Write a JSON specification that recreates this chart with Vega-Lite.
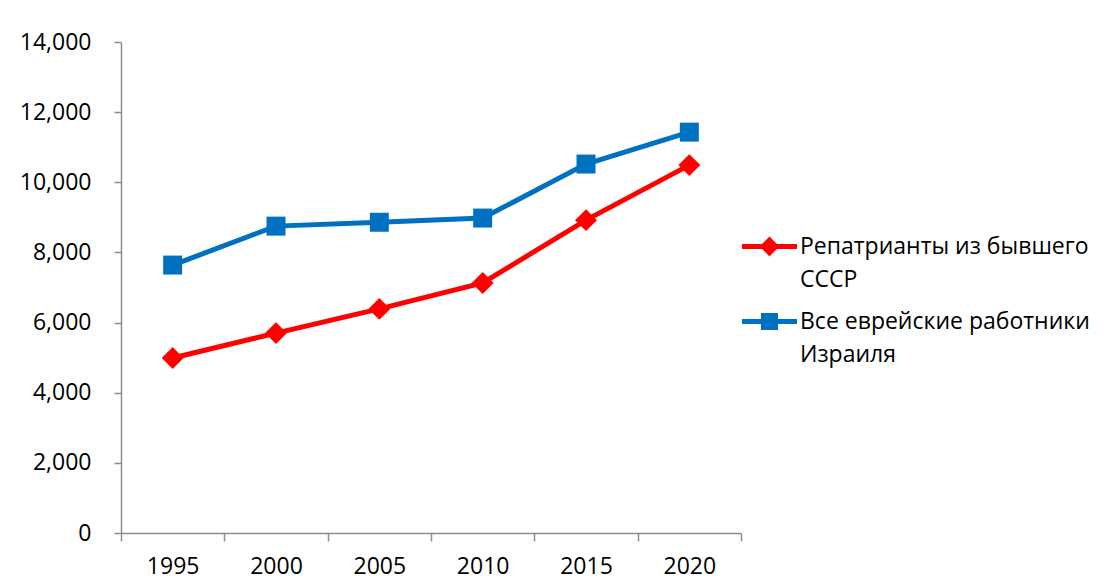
{
  "$schema": "https://vega.github.io/schema/vega-lite/v6.json",
  "width": 620,
  "height": 491,
  "autosize": {"type": "none"},
  "padding": {"left": 121, "top": 42, "right": 364, "bottom": 55},
  "background": "white",
  "config": {
    "view": {"stroke": null},
    "font": "Open Sans",
    "axis": {"domainColor": "#8c8c8c", "tickColor": "#8c8c8c", "domainWidth": 1.5, "tickWidth": 1.5, "labelColor": "#000000", "labelFont": "Open Sans", "labelFontSize": 23, "grid": false, "title": null}
  },
  "data": {
    "values": [
      {"year": "1995", "series": "Репатрианты из бывшего СССР", "value": 4990},
      {"year": "2000", "series": "Репатрианты из бывшего СССР", "value": 5700},
      {"year": "2005", "series": "Репатрианты из бывшего СССР", "value": 6390},
      {"year": "2010", "series": "Репатрианты из бывшего СССР", "value": 7130},
      {"year": "2015", "series": "Репатрианты из бывшего СССР", "value": 8920},
      {"year": "2020", "series": "Репатрианты из бывшего СССР", "value": 10490},
      {"year": "1995", "series": "Все еврейские работники Израиля", "value": 7640},
      {"year": "2000", "series": "Все еврейские работники Израиля", "value": 8750},
      {"year": "2005", "series": "Все еврейские работники Израиля", "value": 8860},
      {"year": "2010", "series": "Все еврейские работники Израиля", "value": 8980},
      {"year": "2015", "series": "Все еврейские работники Израиля", "value": 10520},
      {"year": "2020", "series": "Все еврейские работники Израиля", "value": 11430}
    ]
  },
  "encoding": {
    "x": {
      "field": "year", "type": "ordinal", "bandPosition": 0.5,
      "scale": {"type": "band", "paddingInner": 0, "paddingOuter": 0},
      "axis": {"labelAngle": 0, "tickBand": "extent", "tickSize": 8, "labelPadding": 14, "domainColor": "#8c8c8c"}
    },
    "y": {
      "field": "value", "type": "quantitative",
      "scale": {"domain": [0, 14000], "nice": false},
      "axis": {"values": [0, 2000, 4000, 6000, 8000, 10000, 12000, 14000], "format": ",d", "tickSize": 7, "labelPadding": 23}
    },
    "color": {
      "field": "series", "type": "nominal",
      "scale": {"domain": ["Репатрианты из бывшего СССР", "Все еврейские работники Израиля"], "range": ["#FF0000", "#0070C0"]},
      "legend": {
        "title": null,
        "orient": "none",
        "legendX": 621,
        "legendY": 177,
        "direction": "vertical",
        "symbolSize": 3025,
        "symbolStrokeWidth": 0,
        "symbolOpacity": 1,
        "labelFont": "Open Sans",
        "labelFontSize": 23,
        "labelColor": "#000000",
        "labelOffset": 3,
        "labelLimit": 400,
        "rowPadding": 2,
        "labelBaseline": "middle",
        "labelExpr": "datum.label == 'Репатрианты из бывшего СССР' ? ['Репатрианты из бывшего', 'СССР'] : ['Все еврейские работники', 'Израиля']",
        "encode": {
          "labels": {"update": {"lineHeight": {"value": 33}}},
          "symbols": {
            "update": {
              "shape": {"signal": "datum.value == 'Репатрианты из бывшего СССР' ? 'M-1,-0.09L-0.27,-0.09L0,-0.36L0.27,-0.09L1,-0.09L1,0.09L0.27,0.09L0,0.36L-0.27,0.09L-1,0.09Z' : 'M-1,-0.09L-0.31,-0.09L-0.31,-0.31L0.31,-0.31L0.31,-0.09L1,-0.09L1,0.09L0.31,0.09L0.31,0.31L-0.31,0.31L-0.31,0.09L-1,0.09Z'"},
              "fill": {"signal": "datum.value == 'Репатрианты из бывшего СССР' ? '#FF0000' : '#0070C0'"},
              "size": {"value": 3025}
            }
          }
        }
      }
    }
  },
  "layer": [
    {
      "mark": {"type": "line", "strokeWidth": 5}
    },
    {
      "transform": [{"filter": "datum.series == 'Репатрианты из бывшего СССР'"}],
      "mark": {"type": "point", "filled": true, "opacity": 1, "shape": "diamond", "size": 480}
    },
    {
      "transform": [{"filter": "datum.series == 'Все еврейские работники Израиля'"}],
      "mark": {"type": "point", "filled": true, "opacity": 1, "shape": "square", "size": 360}
    }
  ]
}
